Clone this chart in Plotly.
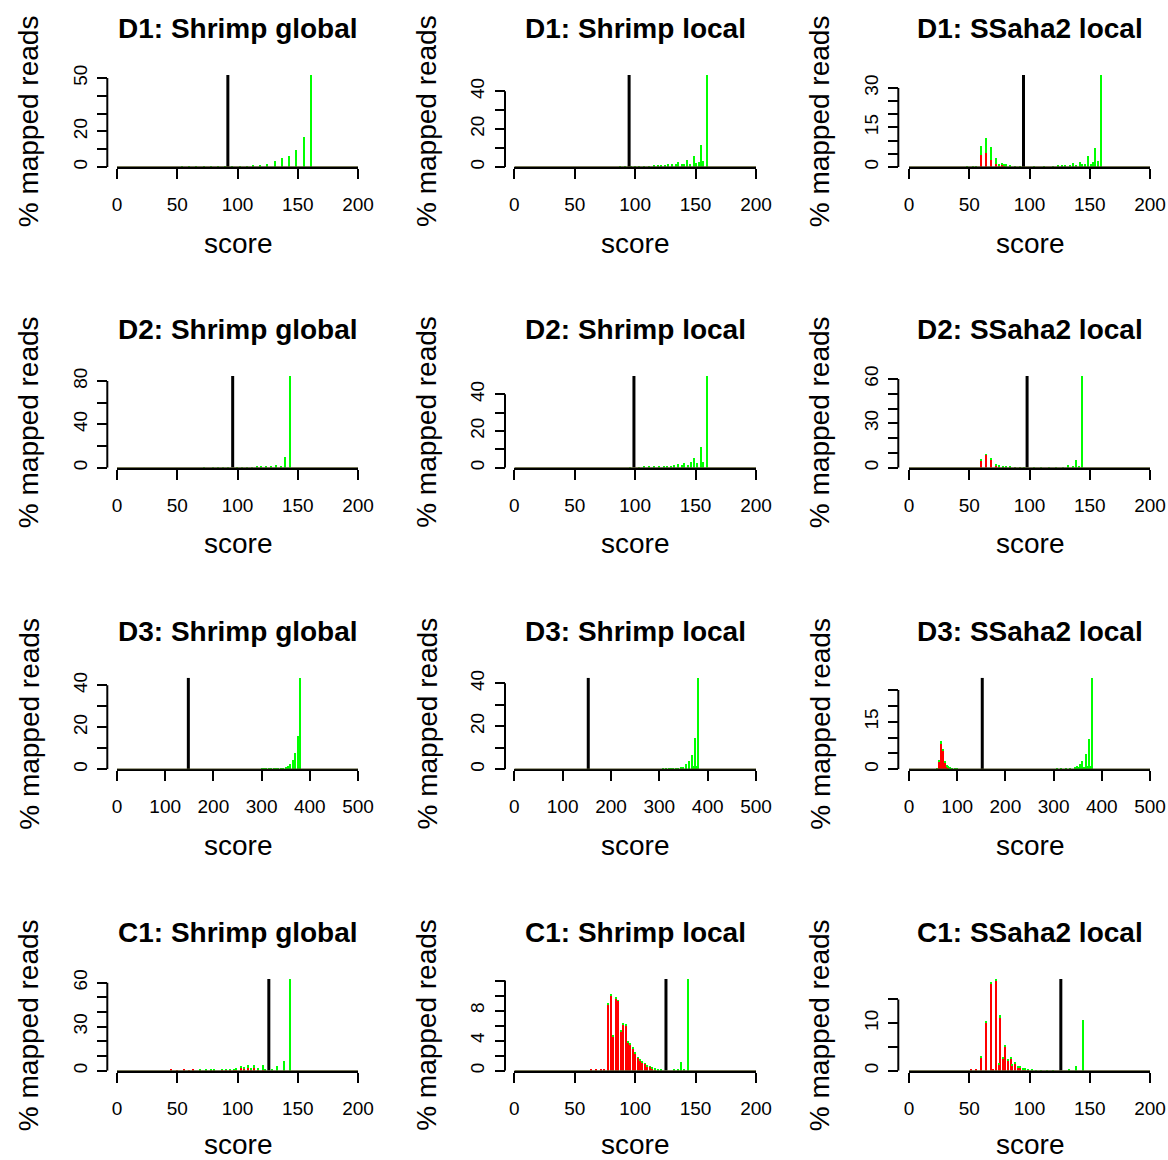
import plotly.graph_objects as go

W, H = 1168, 1160
FONT = "Liberation Sans, Arial, Helvetica, sans-serif"

# ---------------- data ----------------
titles = ["D1: Shrimp global", "D1: Shrimp local", "D1: SSaha2 local",
          "D2: Shrimp global", "D2: Shrimp local", "D2: SSaha2 local",
          "D3: Shrimp global", "D3: Shrimp local", "D3: SSaha2 local",
          "C1: Shrimp global", "C1: Shrimp local", "C1: SSaha2 local"]
thresholds = [92, 95, 95, 96, 99, 98, 148, 153, 152, 126, 125.5, 126]
x_max = [200, 200, 200, 200, 200, 200, 500, 500, 500, 200, 200, 200]
x_tick_step = [50, 50, 50, 50, 50, 50, 100, 100, 100, 50, 50, 50]
y_tick_step = [10, 10, 5, 20, 10, 10, 10, 10, 5, 10, 2, 5]
y_tick_top = [50, 40, 30, 80, 40, 60, 40, 40, 25, 60, 12, 15]
y_tick_labelled = [[0, 20, 50], [0, 20, 40], [0, 15, 30], [0, 40, 80], [0, 20, 40], [0, 30, 60],
                   [0, 20, 40], [0, 20, 40], [0, 15], [0, 30, 60], [0, 4, 8], [0, 10]]

# D1
d1_sg_score = [54, 60, 66, 72, 78, 84, 90, 96, 102, 108, 113, 119, 125, 131, 137, 143, 149, 155, 161]
d1_sg_red = [0] * 19
d1_sg_green = [0.2, 0.3, 0.3, 0.3, 0.3, 0.4, 0.4, 0.4, 0.5, 0.5, 0.8, 1.3, 1.9, 3.2, 5.0, 6.2, 9.4, 16.9, 51.7]

d1_sl_score = [88, 92, 97, 100, 104, 108, 112, 116, 119, 122, 125, 128, 131, 134, 136, 139, 141, 143,
               146, 149, 151, 153, 155, 157, 160]
d1_sl_red = [0] * 25
d1_sl_green = [0.3, 0.3, 0.3, 0.3, 0.3, 0.3, 0.3, 1.0, 1.0, 1.0, 0.9, 1.5, 1.6, 1.8, 2.6, 1.5, 1.5, 3.5,
               1.8, 5.8, 2.0, 2.5, 11.4, 3.0, 48.6]

d1_ss_score = [48, 53, 56, 60, 64, 68, 72, 75, 77, 79, 81, 84, 88, 92, 104, 112, 120, 124, 127, 130,
               134, 136, 139, 142, 144, 146, 149, 151, 152.5, 154.5, 157, 159.5]
d1_ss_red = [0, 0, 0, 4.4, 5.3, 2.8, 1.0, 0.4, 0.7, 0.5, 0, 0, 0, 0, 0, 0, 0, 0, 0, 0,
             0, 0, 0, 0, 0, 0, 0, 0, 0, 0, 0, 0]
d1_ss_green = [0.2, 0.2, 0.2, 3.4, 5.7, 4.8, 2.4, 0.6, 0.8, 0.3, 1.2, 0.5, 0.3, 0.3, 0.2, 0.2, 0.2, 0.5,
               0.5, 0.6, 0.7, 1.4, 0.8, 1.9, 1.0, 1.0, 4.2, 1.2, 1.8, 7.2, 2.1, 34.9]

# D2
d2_sg_score = [72, 80, 84, 88, 92, 100, 104, 108, 112, 116, 120, 124, 128, 132, 136, 140, 144]
d2_sg_red = [0] * 17
d2_sg_green = [0.5, 0.3, 0.5, 0.5, 0.5, 0.5, 0.6, 0.6, 0.6, 0.7, 0.7, 0.8, 0.8, 2.5, 1.0, 10.2, 84.6]

d2_sl_score = [96, 104, 108, 112, 116, 120, 124, 127, 130, 133, 136, 139, 141, 144, 147, 149, 152,
               155, 157, 160]
d2_sl_red = [0] * 20
d2_sl_green = [0.3, 0.3, 0.4, 0.5, 0.6, 0.8, 1.0, 1.0, 1.2, 1.3, 1.8, 1.5, 2.5, 1.6, 3.0, 5.5, 2.5,
               11.5, 3.0, 50.0]

d2_ss_score = [60, 64, 68, 72, 75, 78, 81, 84, 88, 92, 96, 104, 110, 116, 122, 128, 132, 136, 139,
               141, 144]
d2_ss_red = [5.2, 8.6, 5.4, 1.8, 0.5, 0.3, 0.3, 0.3, 0.3, 0.2, 0, 0, 0, 0, 0, 0, 0, 0, 0, 0, 0]
d2_ss_green = [0.7, 0.6, 0.5, 0.5, 0.9, 0.3, 0.2, 0.2, 0.1, 0.2, 0.3, 0.3, 0.3, 0.3, 0.3, 0.4, 1.8,
               1.0, 5.2, 1.2, 62.0]

# D3
d3_sg_score = [300, 305, 310, 315, 320, 325, 330, 335, 340, 345, 350, 355, 360, 365, 370, 375, 380]
d3_sg_red = [0] * 17
d3_sg_green = [0.4, 0.4, 0.4, 0.5, 0.5, 0.6, 0.6, 0.7, 0.8, 1.0, 1.3, 1.8, 2.5, 4.5, 8.0, 16.0, 43.6]

d3_sl_score = [309, 315, 320, 325, 330, 335, 339, 345, 350, 356, 362, 368, 372, 375, 378, 381]
d3_sl_red = [0] * 16
d3_sl_green = [0.5, 0.4, 0.4, 0.5, 0.5, 0.6, 0.8, 1.0, 1.4, 2.4, 3.8, 6.6, 1.5, 14.7, 1.5, 42.6]

d3_ss_score = [59, 63, 67, 71, 75, 78, 82, 85, 90, 95, 100, 110, 120, 308, 315, 325, 335, 344, 349,
               352, 355, 358, 360, 364, 367, 371, 374, 377, 380]
d3_ss_red = [0.1, 2.6, 8.3, 5.9, 2.2, 1.0, 0.6, 0.3, 0, 0, 0, 0, 0, 0, 0, 0, 0, 0, 0,
             0, 0, 0, 0, 0, 0, 0, 0, 0, 0]
d3_ss_green = [0.2, 0.3, 0.6, 0.5, 0.4, 0.5, 0.4, 0.5, 0.5, 0.4, 0.3, 0.1, 0.1, 0.3, 0.3, 0.3, 0.3,
               0.7, 1.0, 0.8, 1.7, 0.8, 2.6, 0.9, 5.0, 1.0, 9.6, 1.0, 28.9]

# C1
c1_sg_score = [45, 50, 56, 60, 63, 69, 74, 78, 81, 87, 91, 94, 97, 99, 103, 106, 109, 111, 114, 117,
               121, 123, 129, 133, 139, 144]
c1_sg_red = [0.5, 0.3, 0.5, 0.3, 0.5, 0.2, 0.3, 0.3, 0.3, 0.5, 0.5, 0.6, 0.6, 1.0, 2.2, 1.5, 2.0,
             1.0, 2.3, 0.8, 0.5, 0.3, 0, 0, 0, 0]
c1_sg_green = [0, 0, 0, 0, 0, 0.3, 0.2, 0.2, 0.7, 0.3, 0.3, 0.4, 0.2, 0.8, 1.2, 0.8, 1.6, 0.5, 1.3,
               0.7, 3.1, 0.7, 0.8, 3.4, 6.6, 62.5]

c1_sl_score = [64, 68, 72, 75, 78, 80.5, 82.5, 84.5, 86.5, 88.5, 90.5, 92.5, 94.5, 96.5, 98.5, 100.5,
               102.5, 104.5, 106.5, 108.5, 110.5, 112.5, 114.5, 116.5, 119, 122, 132.5, 135.5,
               138.5, 140.5, 144]
c1_sl_red = [0.1, 0.1, 0.1, 0.1, 8.75, 9.96, 4.6, 9.6, 9.3, 5.15, 6.2, 5.95, 3.8, 3.55, 3.0, 2.35,
             1.7, 1.4, 1.15, 0.9, 0.6, 0.5, 0.35, 0.22, 0, 0, 0, 0, 0, 0, 0]
c1_sl_green = [0, 0, 0, 0, 0.15, 0.15, 0.15, 0.2, 0.1, 0.15, 0.15, 0.15, 0.15, 0.15, 0.15, 0.15,
               0.1, 0.15, 0.15, 0.1, 0.15, 0.1, 0.15, 0.13, 0.15, 0.15, 0.15, 0.2, 1.1, 0.2, 12.2]

c1_ss_score = [52, 56, 60, 64.5, 68, 70, 72, 74.5, 76, 78, 80, 82, 84.5, 86, 88.5, 90.5, 92, 94.5,
               96.5, 99, 102, 106, 110, 115, 120, 133, 138.5, 144.5]
c1_ss_red = [0.2, 0.2, 2.8, 10.1, 18.3, 0.3, 18.9, 1.4, 11.3, 2.6, 5.1, 2.25, 2.6, 1.05, 1.5, 0.7,
             0.6, 0.35, 0.28, 0.15, 0, 0, 0, 0, 0, 0, 0, 0]
c1_ss_green = [0, 0, 0.3, 0.25, 0.3, 0, 0.4, 0.3, 0.4, 0.2, 0.25, 0.25, 0.2, 0.25, 0.3, 0.2, 0.25,
               0.21, 0.28, 0.15, 0.3, 0.1, 0.1, 0.1, 0.1, 0.35, 1.0, 10.7]

panels = [
    (d1_sg_score, d1_sg_red, d1_sg_green), (d1_sl_score, d1_sl_red, d1_sl_green),
    (d1_ss_score, d1_ss_red, d1_ss_green),
    (d2_sg_score, d2_sg_red, d2_sg_green), (d2_sl_score, d2_sl_red, d2_sl_green),
    (d2_ss_score, d2_ss_red, d2_ss_green),
    (d3_sg_score, d3_sg_red, d3_sg_green), (d3_sl_score, d3_sl_red, d3_sl_green),
    (d3_ss_score, d3_ss_red, d3_ss_green),
    (c1_sg_score, c1_sg_red, c1_sg_green), (c1_sl_score, c1_sl_red, c1_sl_green),
    (c1_ss_score, c1_ss_red, c1_ss_green),
]

# ---------------- layout geometry (pixels) ----------------
row_zero_px = [167.0, 467.7, 769.3, 1070.7]
row_top_px = [75.0, 376.0, 677.7, 979.0]
col_x0_px = [117.0, 514.3, 909.0]
col_x1_px = [358.0, 756.0, 1150.0]
col_yaxis_px = [107.3, 505.0, 898.3]
score_label_px = [243.0, 543.7, 845.3, 1144.0]

RED = "#FF0000"
GREEN = "#00FF00"
BASE = "#4a4a22"

fig = go.Figure()
layout = dict(width=W, height=H, margin=dict(l=0, r=0, t=0, b=0, autoexpand=False),
              paper_bgcolor="white", plot_bgcolor="white", showlegend=False,
              barmode="stack", bargap=0, font=dict(family=FONT, color="black"))
shapes = []
annotations = []

for i, (score, red, green) in enumerate(panels):
    r, c = divmod(i, 3)
    n = i + 1
    xa = "x" if n == 1 else f"x{n}"
    ya = "y" if n == 1 else f"y{n}"
    totals = [a + b for a, b in zip(red, green)]
    ymax = max(totals)
    zero_px, top_px = row_zero_px[r], row_top_px[r]
    px_per_x = (col_x1_px[c] - col_x0_px[c]) / x_max[i]
    bw = (1.5 if x_max[i] <= 200 else 1.1) / px_per_x

    fig.add_trace(go.Bar(x=score, y=red, xaxis=xa, yaxis=ya, width=bw,
                         marker=dict(color=RED, line=dict(width=0))))
    fig.add_trace(go.Bar(x=score, y=green, xaxis=xa, yaxis=ya, width=bw,
                         marker=dict(color=GREEN, line=dict(width=0))))
    fig.add_trace(go.Scatter(x=[thresholds[i], thresholds[i]], y=[0, ymax], xaxis=xa, yaxis=ya,
                             mode="lines", line=dict(color="black", width=3),
                             hoverinfo="skip"))

    xt = list(range(0, x_max[i] + 1, x_tick_step[i]))
    yt = list(range(0, y_tick_top[i] + 1, y_tick_step[i]))
    ytext = [str(v) if v in y_tick_labelled[i] else "" for v in yt]

    layout["xaxis" if n == 1 else f"xaxis{n}"] = dict(
        domain=[col_x0_px[c] / W, col_x1_px[c] / W], range=[0, x_max[i]], anchor=ya,
        showline=True, linecolor="black", linewidth=2, ticks="outside", ticklen=10,
        tickwidth=2, tickcolor="black", tickvals=xt, ticktext=[str(v) for v in xt],
        tickfont=dict(size=19, family=FONT, color="black"), showgrid=False, zeroline=False,
        ticklabelstandoff=9, fixedrange=True)
    layout["yaxis" if n == 1 else f"yaxis{n}"] = dict(
        domain=[1 - zero_px / H, 1 - top_px / H], range=[0, ymax],
        anchor="free", position=col_yaxis_px[c] / W, showline=False,
        ticks="outside", ticklen=10, tickwidth=2, tickcolor="black",
        tickvals=yt, ticktext=ytext, tickangle=-90,
        tickfont=dict(size=19, family=FONT, color="black"), showgrid=False, zeroline=False,
        ticklabelstandoff=3, fixedrange=True)

    # zero baseline of the histogram
    shapes.append(dict(type="line", xref=xa, yref=ya, x0=0, x1=x_max[i], y0=0, y1=0,
                       line=dict(color=BASE, width=1.5), layer="above"))
    # y-axis spine (spans the tick range only, as in R)
    shapes.append(dict(type="line", xref="paper", yref=ya, x0=col_yaxis_px[c] / W,
                       x1=col_yaxis_px[c] / W, y0=0, y1=yt[-1],
                       line=dict(color="black", width=2)))

    cx = (col_x0_px[c] + col_x1_px[c]) / 2 / W
    annotations.append(dict(text=f"<b>{titles[i]}</b>", x=cx, y=1 - (top_px - 46.5) / H,
                            xref="paper", yref="paper", showarrow=False,
                            xanchor="center", yanchor="middle",
                            font=dict(size=28, family=FONT, color="black")))
    annotations.append(dict(text="score", x=cx, y=1 - score_label_px[r] / H,
                            xref="paper", yref="paper", showarrow=False,
                            xanchor="center", yanchor="middle",
                            font=dict(size=28, family=FONT, color="black")))
    annotations.append(dict(text="% mapped reads", x=(col_yaxis_px[c] - 78) / W,
                            y=1 - (zero_px + top_px) / 2 / H,
                            xref="paper", yref="paper", showarrow=False, textangle=-90,
                            xanchor="center", yanchor="middle",
                            font=dict(size=28, family=FONT, color="black")))

layout["shapes"] = shapes
layout["annotations"] = annotations
fig.update_layout(**layout)

fig.write_html("out.html",
               post_script="document.body.style.margin='0px';"
                           "document.body.style.overflow='hidden';")
